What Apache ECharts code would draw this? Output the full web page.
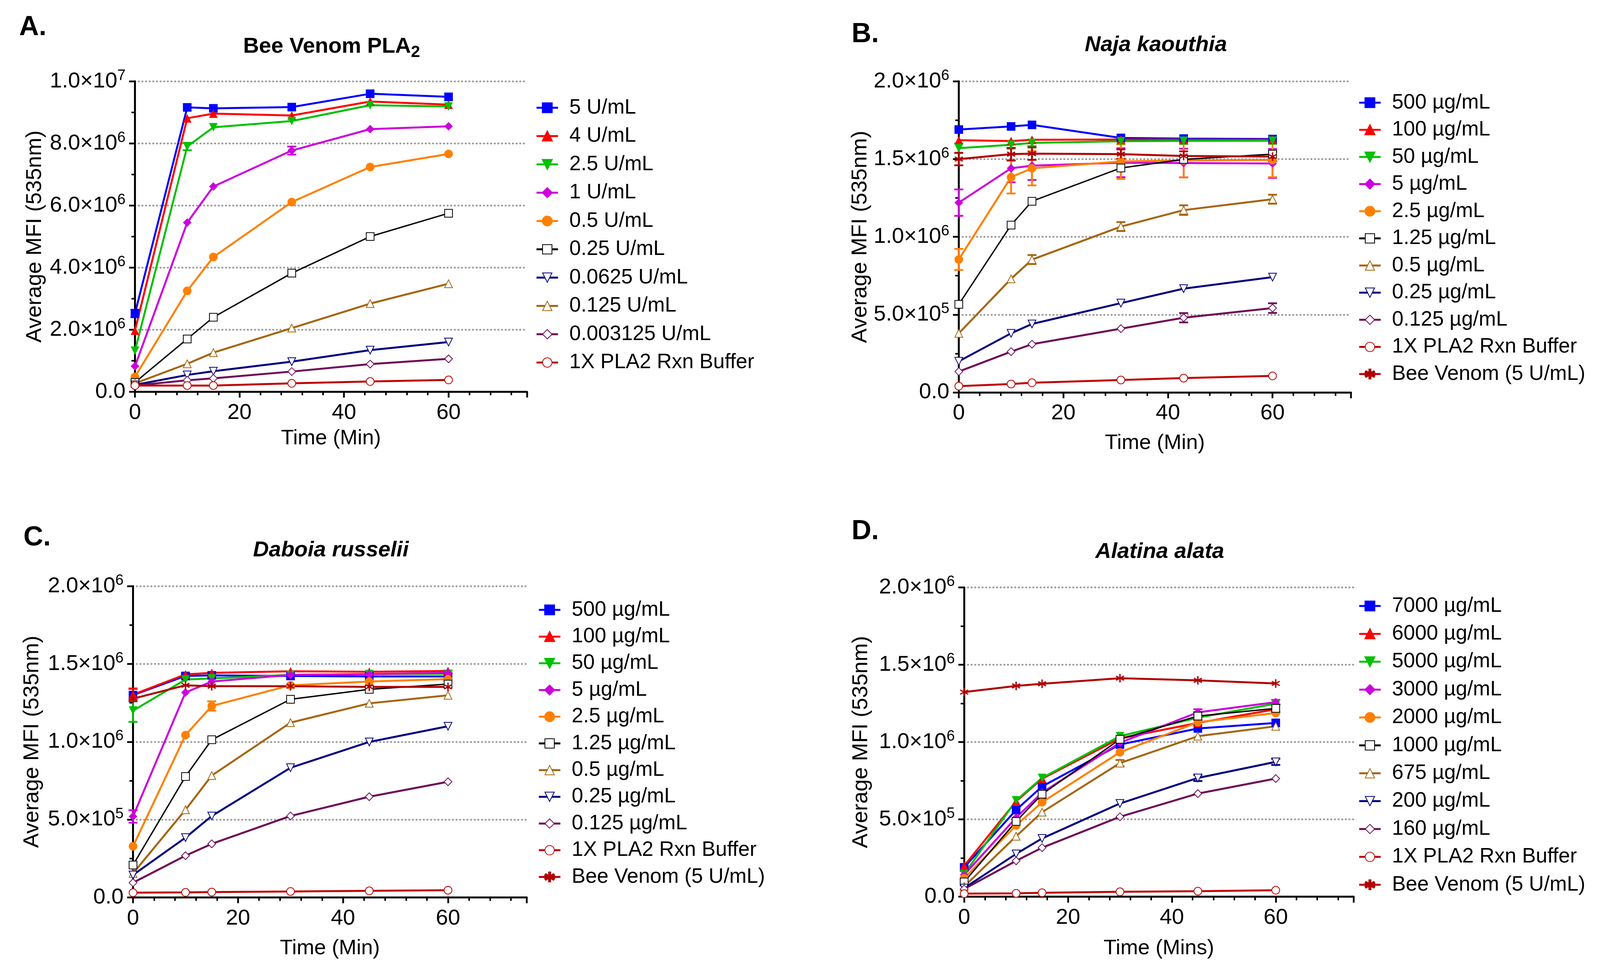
<!DOCTYPE html>
<html>
<head>
<meta charset="utf-8">
<script src="https://cdn.jsdelivr.net/npm/echarts@6/dist/echarts.min.js"></script>
<style>
  html, body { margin: 0; padding: 0; background: #fff; }
  #chart { width: 4114px; height: 2492px; }
</style>
</head>
<body>
<div id="chart"></div>
<script>
// ---- data (MFI values in units of 10^6) ----
const timeA = [0, 10, 15, 30, 45, 60];
const timeB = [0, 10, 14, 31, 43, 60];
const timeC = [0, 10, 15, 30, 45, 60];
const timeD = [0, 10, 15, 30, 45, 60];

// A. Bee Venom PLA2
const a5U      = [2.52, 9.16, 9.13, 9.17, 9.60, 9.50];
const a4U      = [1.97, 8.81, 8.96, 8.90, 9.35, 9.25];
const a2_5U    = [1.32, 7.90, 8.52, 8.72, 9.23, 9.19];
const a1U      = [0.82, 5.45, 6.61, 7.77, 8.46, 8.55];
const a0_5U    = [0.48, 3.25, 4.34, 6.11, 7.24, 7.66];
const a0_25U   = [0.30, 1.70, 2.40, 3.82, 5.00, 5.75];
const a0_0625U = [0.22, 0.54, 0.66, 0.97, 1.34, 1.60];
const a0_125U  = [0.27, 0.90, 1.26, 2.05, 2.84, 3.48];
const a0_0031U = [0.20, 0.37, 0.43, 0.65, 0.89, 1.06];
const aBuffer  = [0.20, 0.20, 0.20, 0.27, 0.33, 0.38];
const a5UErr   = [0.12, 0, 0, 0, 0, 0];
const a2_5UErr = [0, 0.12, 0, 0, 0, 0];
const a1UErr   = [0, 0, 0, 0.13, 0, 0];

// B. Naja kaouthia
const b500   = [1.69, 1.71, 1.72, 1.636, 1.632, 1.629];
const b100   = [1.622, 1.616, 1.624, 1.626, 1.625, 1.624];
const b50    = [1.57, 1.592, 1.604, 1.615, 1.617, 1.618];
const b5     = [1.22, 1.441, 1.458, 1.477, 1.475, 1.472];
const b2_5   = [0.855, 1.384, 1.441, 1.485, 1.492, 1.494];
const b1_25  = [0.566, 1.076, 1.229, 1.443, 1.498, 1.532];
const b0_5   = [0.38, 0.730, 0.854, 1.066, 1.172, 1.242];
const b0_25  = [0.20, 0.38, 0.44, 0.574, 0.667, 0.741];
const b0_125 = [0.134, 0.262, 0.31, 0.41, 0.48, 0.542];
const bBuffer = [0.04, 0.054, 0.062, 0.08, 0.092, 0.106];
const bBee   = [1.50, 1.532, 1.535, 1.532, 1.52, 1.516];
const b5Err    = [0.085, 0.09, 0.092, 0.093, 0.092, 0.093];
const b2_5Err  = [0.068, 0.105, 0.11, 0.113, 0.11, 0.11];
const b50Err   = [0.03, 0.025, 0.02, 0.02, 0.02, 0.02];
const bBeeErr  = [0.04, 0.04, 0.04, 0.03, 0.03, 0.03];
const b0_5Err  = [0, 0, 0.029, 0.029, 0.031, 0.029];
const b0_125Err = [0, 0, 0, 0, 0.03, 0.031];

// C. Daboia russelii
const c500   = [1.30, 1.423, 1.427, 1.423, 1.42, 1.42];
const c100   = [1.303, 1.433, 1.443, 1.453, 1.45, 1.455];
const c50    = [1.20, 1.40, 1.407, 1.43, 1.435, 1.437];
const c5     = [0.52, 1.317, 1.387, 1.43, 1.435, 1.443];
const c2_5   = [0.328, 1.043, 1.23, 1.363, 1.387, 1.403];
const c1_25  = [0.208, 0.777, 1.013, 1.273, 1.337, 1.371];
const c0_5   = [0.154, 0.563, 0.783, 1.123, 1.247, 1.299];
const c0_25  = [0.144, 0.384, 0.523, 0.833, 0.999, 1.10];
const c0_125 = [0.094, 0.268, 0.344, 0.523, 0.647, 0.743];
const cBuffer = [0.03, 0.032, 0.034, 0.038, 0.042, 0.046];
const cBee   = [1.277, 1.363, 1.357, 1.357, 1.353, 1.353];
const c500Err = [0.04, 0.015, 0.015, 0, 0, 0.02];
const c100Err = [0.04, 0, 0, 0, 0, 0];
const c50Err  = [0.072, 0, 0, 0, 0, 0.02];
const c5Err   = [0.04, 0, 0, 0, 0, 0];
const c2_5Err = [0, 0, 0.03, 0, 0, 0];

// D. Alatina alata
const d7000 = [0.19, 0.561, 0.713, 0.984, 1.088, 1.124];
const d6000 = [0.20, 0.617, 0.763, 1.024, 1.124, 1.212];
const d5000 = [0.146, 0.623, 0.768, 1.038, 1.158, 1.248];
const d3000 = [0.142, 0.511, 0.673, 0.996, 1.192, 1.258];
const d2000 = [0.12, 0.461, 0.611, 0.934, 1.128, 1.188];
const d1000 = [0.096, 0.487, 0.663, 1.018, 1.168, 1.218];
const d675  = [0.066, 0.391, 0.547, 0.864, 1.038, 1.102];
const d200  = [0.056, 0.277, 0.377, 0.603, 0.768, 0.872];
const d160  = [0.05, 0.232, 0.317, 0.517, 0.667, 0.764];
const dBuffer = [0.02, 0.022, 0.026, 0.032, 0.036, 0.042];
const dBee  = [1.323, 1.363, 1.377, 1.413, 1.399, 1.379];
const d3000Err = [0, 0, 0, 0, 0.02, 0.015];
const d1000Err = [0, 0, 0.03, 0, 0.025, 0.025];
const d675Err  = [0, 0, 0, 0.02, 0, 0];
const d200Err  = [0, 0, 0, 0, 0.02, 0.02];

// ---- styling ----
const FONT = '"Liberation Sans", Arial, sans-serif';
const ASTERISK = 'path://M-1.5,-10L1.5,-10L1.5,10L-1.5,10Z' +
  'M7.91,-6.3L9.41,-3.7L-7.91,6.3L-9.41,3.7Z' +
  'M-9.41,-3.7L-7.91,-6.3L9.41,3.7L7.91,6.3Z';

const STY = {
  blue:    { color: '#0000ff', symbol: 'rect' },
  red:     { color: '#ff0000', symbol: 'triangle' },
  green:   { color: '#00c000', symbol: 'triangle', rotate: 180 },
  magenta: { color: '#cc00dd', symbol: 'diamond' },
  orange:  { color: '#ff8000', symbol: 'circle' },
  black:   { color: '#000000', symbol: 'emptyRect', width: 3.5 },
  brown:   { color: '#a5650f', symbol: 'emptyTriangle' },
  navy:    { color: '#00007f', symbol: 'emptyTriangle', rotate: 180 },
  purple:  { color: '#6e0b58', symbol: 'emptyDiamond' },
  buffer:  { color: '#c00000', symbol: 'emptyCircle' },
  bee:     { color: '#b00000', symbol: ASTERISK }
};

const series = [];

function addLine(p, name, t, y, sty, err) {
  const empty = sty.symbol.indexOf('empty') === 0;
  series.push({
    type: 'line', name: name, xAxisIndex: p, yAxisIndex: p,
    data: t.map((x, i) => [x, y[i]]),
    symbol: sty.symbol, symbolSize: empty ? 20 : 22, symbolRotate: sty.rotate || 0,
    showAllSymbol: true,
    lineStyle: { color: sty.color, width: sty.width || 5 },
    itemStyle: { color: sty.color, borderColor: sty.color, borderWidth: empty ? 4.5 : 0 },
    z: 3
  });
  if (!err) return;
  const ed = [];
  t.forEach((x, i) => { if (err[i] > 0) ed.push([x, y[i] - err[i], y[i] + err[i]]); });
  series.push({
    type: 'custom', xAxisIndex: p, yAxisIndex: p, silent: true, z: 2,
    data: ed, encode: { x: 0, y: [1, 2] },
    renderItem: function (params, api) {
      const top = api.coord([api.value(0), api.value(2)]);
      const bot = api.coord([api.value(0), api.value(1)]);
      const w = 11.5;
      const st = { stroke: sty.color, lineWidth: 4.5 };
      return { type: 'group', children: [
        { type: 'line', shape: { x1: top[0], y1: top[1], x2: bot[0], y2: bot[1] }, style: st },
        { type: 'line', shape: { x1: top[0] - w, y1: top[1], x2: top[0] + w, y2: top[1] }, style: st },
        { type: 'line', shape: { x1: bot[0] - w, y1: bot[1], x2: bot[0] + w, y2: bot[1] }, style: st }
      ] };
    }
  });
}

// A
addLine(0, '5 U/mL', timeA, a5U, STY.blue, a5UErr);
addLine(0, '4 U/mL', timeA, a4U, STY.red);
addLine(0, '2.5 U/mL', timeA, a2_5U, STY.green, a2_5UErr);
addLine(0, '1 U/mL', timeA, a1U, STY.magenta, a1UErr);
addLine(0, '0.5 U/mL', timeA, a0_5U, STY.orange);
addLine(0, '0.25 U/mL', timeA, a0_25U, STY.black);
addLine(0, '0.0625 U/mL', timeA, a0_0625U, STY.navy);
addLine(0, '0.125 U/mL', timeA, a0_125U, STY.brown);
addLine(0, '0.003125 U/mL', timeA, a0_0031U, STY.purple);
addLine(0, '1X PLA2 Rxn Buffer', timeA, aBuffer, STY.buffer);
// B
addLine(1, '500 µg/mL', timeB, b500, STY.blue);
addLine(1, '100 µg/mL', timeB, b100, STY.red);
addLine(1, '50 µg/mL', timeB, b50, STY.green, b50Err);
addLine(1, '5 µg/mL', timeB, b5, STY.magenta, b5Err);
addLine(1, '2.5 µg/mL', timeB, b2_5, STY.orange, b2_5Err);
addLine(1, '1.25 µg/mL', timeB, b1_25, STY.black);
addLine(1, '0.5 µg/mL', timeB, b0_5, STY.brown, b0_5Err);
addLine(1, '0.25 µg/mL', timeB, b0_25, STY.navy);
addLine(1, '0.125 µg/mL', timeB, b0_125, STY.purple, b0_125Err);
addLine(1, '1X PLA2 Rxn Buffer', timeB, bBuffer, STY.buffer);
addLine(1, 'Bee Venom (5 U/mL)', timeB, bBee, STY.bee, bBeeErr);
// C
addLine(2, '500 µg/mL', timeC, c500, STY.blue, c500Err);
addLine(2, '100 µg/mL', timeC, c100, STY.red, c100Err);
addLine(2, '50 µg/mL', timeC, c50, STY.green, c50Err);
addLine(2, '5 µg/mL', timeC, c5, STY.magenta, c5Err);
addLine(2, '2.5 µg/mL', timeC, c2_5, STY.orange, c2_5Err);
addLine(2, '1.25 µg/mL', timeC, c1_25, STY.black);
addLine(2, '0.5 µg/mL', timeC, c0_5, STY.brown);
addLine(2, '0.25 µg/mL', timeC, c0_25, STY.navy);
addLine(2, '0.125 µg/mL', timeC, c0_125, STY.purple);
addLine(2, '1X PLA2 Rxn Buffer', timeC, cBuffer, STY.buffer);
addLine(2, 'Bee Venom (5 U/mL)', timeC, cBee, STY.bee);
// D
addLine(3, '7000 µg/mL', timeD, d7000, STY.blue);
addLine(3, '6000 µg/mL', timeD, d6000, STY.red);
addLine(3, '5000 µg/mL', timeD, d5000, STY.green);
addLine(3, '3000 µg/mL', timeD, d3000, STY.magenta, d3000Err);
addLine(3, '2000 µg/mL', timeD, d2000, STY.orange);
addLine(3, '1000 µg/mL', timeD, d1000, STY.black, d1000Err);
addLine(3, '675 µg/mL', timeD, d675, STY.brown, d675Err);
addLine(3, '200 µg/mL', timeD, d200, STY.navy, d200Err);
addLine(3, '160 µg/mL', timeD, d160, STY.purple);
addLine(3, '1X PLA2 Rxn Buffer', timeD, dBuffer, STY.buffer);
addLine(3, 'Bee Venom (5 U/mL)', timeD, dBee, STY.bee);

const legendA = ['5 U/mL', '4 U/mL', '2.5 U/mL', '1 U/mL', '0.5 U/mL', '0.25 U/mL',
  '0.0625 U/mL', '0.125 U/mL', '0.003125 U/mL', '1X PLA2 Rxn Buffer'];
const legendBC = ['500 µg/mL', '100 µg/mL', '50 µg/mL', '5 µg/mL', '2.5 µg/mL', '1.25 µg/mL',
  '0.5 µg/mL', '0.25 µg/mL', '0.125 µg/mL', '1X PLA2 Rxn Buffer', 'Bee Venom (5 U/mL)'];
const legendD = ['7000 µg/mL', '6000 µg/mL', '5000 µg/mL', '3000 µg/mL', '2000 µg/mL', '1000 µg/mL',
  '675 µg/mL', '200 µg/mL', '160 µg/mL', '1X PLA2 Rxn Buffer', 'Bee Venom (5 U/mL)'];

// ---- layout ----
const grids = [
  { left: 345.5, top: 208.3, width: 1003.5, height: 795 },
  { left: 2454.5, top: 208.3, width: 1004, height: 796.7 },
  { left: 340.5, top: 1501.3, width: 1008, height: 797 },
  { left: 2468.3, top: 1504.4, width: 997, height: 792.3 }
];

function sciLabel(v) {
  if (v === 0) return '{m|0.0}';
  const val = Math.round(v * 1e6);
  const e = Math.floor(Math.log10(val) + 1e-9);
  const m = val / Math.pow(10, e);
  return '{m|' + m.toFixed(1) + '×10}{e|' + e + '}';
}

function xAxis(p, name, gap) {
  return {
    gridIndex: p, type: 'value', min: 0, max: 75, interval: 20,
    name: name, nameLocation: 'middle', nameGap: gap,
    nameTextStyle: { fontSize: 54, color: '#000', fontFamily: FONT, verticalAlign: 'top' },
    axisLine: { show: true, onZero: false, lineStyle: { color: '#000', width: 5 } },
    axisTick: { show: true, length: 15, lineStyle: { color: '#000', width: 4.5 } },
    minorTick: { show: true, splitNumber: 5, length: 9, lineStyle: { color: '#000', width: 4 } },
    axisLabel: { fontSize: 56, color: '#000', fontFamily: FONT, margin: 26,
      formatter: v => (v > 60 ? '' : String(v)) },
    splitLine: { show: false }
  };
}

function yAxis(p, max, interval, gap) {
  return {
    gridIndex: p, type: 'value', min: 0, max: max, interval: interval,
    name: 'Average MFI (535nm)', nameLocation: 'middle', nameGap: gap,
    nameTextStyle: { fontSize: 56, color: '#000', fontFamily: FONT },
    axisLine: { show: true, onZero: false, lineStyle: { color: '#000', width: 5 } },
    axisTick: { show: true, length: 15, lineStyle: { color: '#000', width: 4.5 } },
    minorTick: { show: true, splitNumber: 2, length: 9, lineStyle: { color: '#000', width: 4 } },
    axisLabel: {
      margin: 24, color: '#000', formatter: sciLabel,
      rich: {
        m: { fontSize: 56, lineHeight: 66, fontFamily: FONT, color: '#000' },
        e: { fontSize: 38, lineHeight: 35, fontFamily: FONT, color: '#000', verticalAlign: 'top' }
      }
    },
    splitLine: { show: true, showMinLine: false,
      lineStyle: { color: '#9a9a9a', width: 4.5, type: [1, 8.3], cap: 'round' } }
  };
}

function legend(names, left, top, gap) {
  return {
    data: names, orient: 'vertical', left: left, top: top, padding: 0,
    itemWidth: 55, itemHeight: 30, itemGap: gap, selectedMode: false,
    lineStyle: { width: 5 },
    itemStyle: { borderWidth: 3.5 },
    textStyle: { fontSize: 53, color: '#000', fontFamily: FONT, lineHeight: 60,
      padding: [0, 0, 0, 24] }
  };
}

function panelTitle(text, cx, top, italic) {
  return {
    text: text, left: cx, top: top, textAlign: 'center', padding: 0,
    textStyle: {
      fontSize: 56, fontWeight: 'bold', fontStyle: italic ? 'italic' : 'normal',
      fontFamily: FONT, color: '#000',
      rich: {
        t: { fontSize: 56, fontWeight: 'bold', lineHeight: 70, fontFamily: FONT, color: '#000' },
        s: { fontSize: 42, fontWeight: 'bold', lineHeight: 16, fontFamily: FONT, color: '#000',
          verticalAlign: 'bottom' }
      }
    }
  };
}

function letter(text, left, top) {
  return { text: text, left: left, top: top, padding: 0,
    textStyle: { fontSize: 70, fontWeight: 'bold', fontFamily: FONT, color: '#000' } };
}

const chart = echarts.init(document.getElementById('chart'));
chart.setOption({
  animation: false,
  backgroundColor: '#fff',
  title: [
    panelTitle('{t|Bee Venom PLA}{s|2}', 849, 85, false),
    panelTitle('Naja kaouthia', 2959, 88, true),
    panelTitle('Daboia russelii', 847, 1382, true),
    panelTitle('Alatina alata', 2969, 1386, true),
    letter('A.', 49, 36),
    letter('B.', 2180, 54),
    letter('C.', 60, 1343),
    letter('D.', 2180, 1327)
  ],
  legend: [
    legend(legendA, 1371, 246, 12.5),
    legend(legendBC, 3477, 233, 9.5),
    legend(legendBC, 1377, 1532, 8.4),
    legend(legendD, 3477, 1522, 11.4)
  ],
  grid: grids,
  xAxis: [
    xAxis(0, 'Time (Min)', 93),
    xAxis(1, 'Time (Min)', 103),
    xAxis(2, 'Time (Min)', 104),
    xAxis(3, 'Time (Mins)', 105)
  ],
  yAxis: [
    yAxis(0, 10, 2, 228),
    yAxis(1, 2, 0.5, 224),
    yAxis(2, 2, 0.5, 230),
    yAxis(3, 2, 0.5, 236)
  ],
  series: series
});
</script>
</body>
</html>
